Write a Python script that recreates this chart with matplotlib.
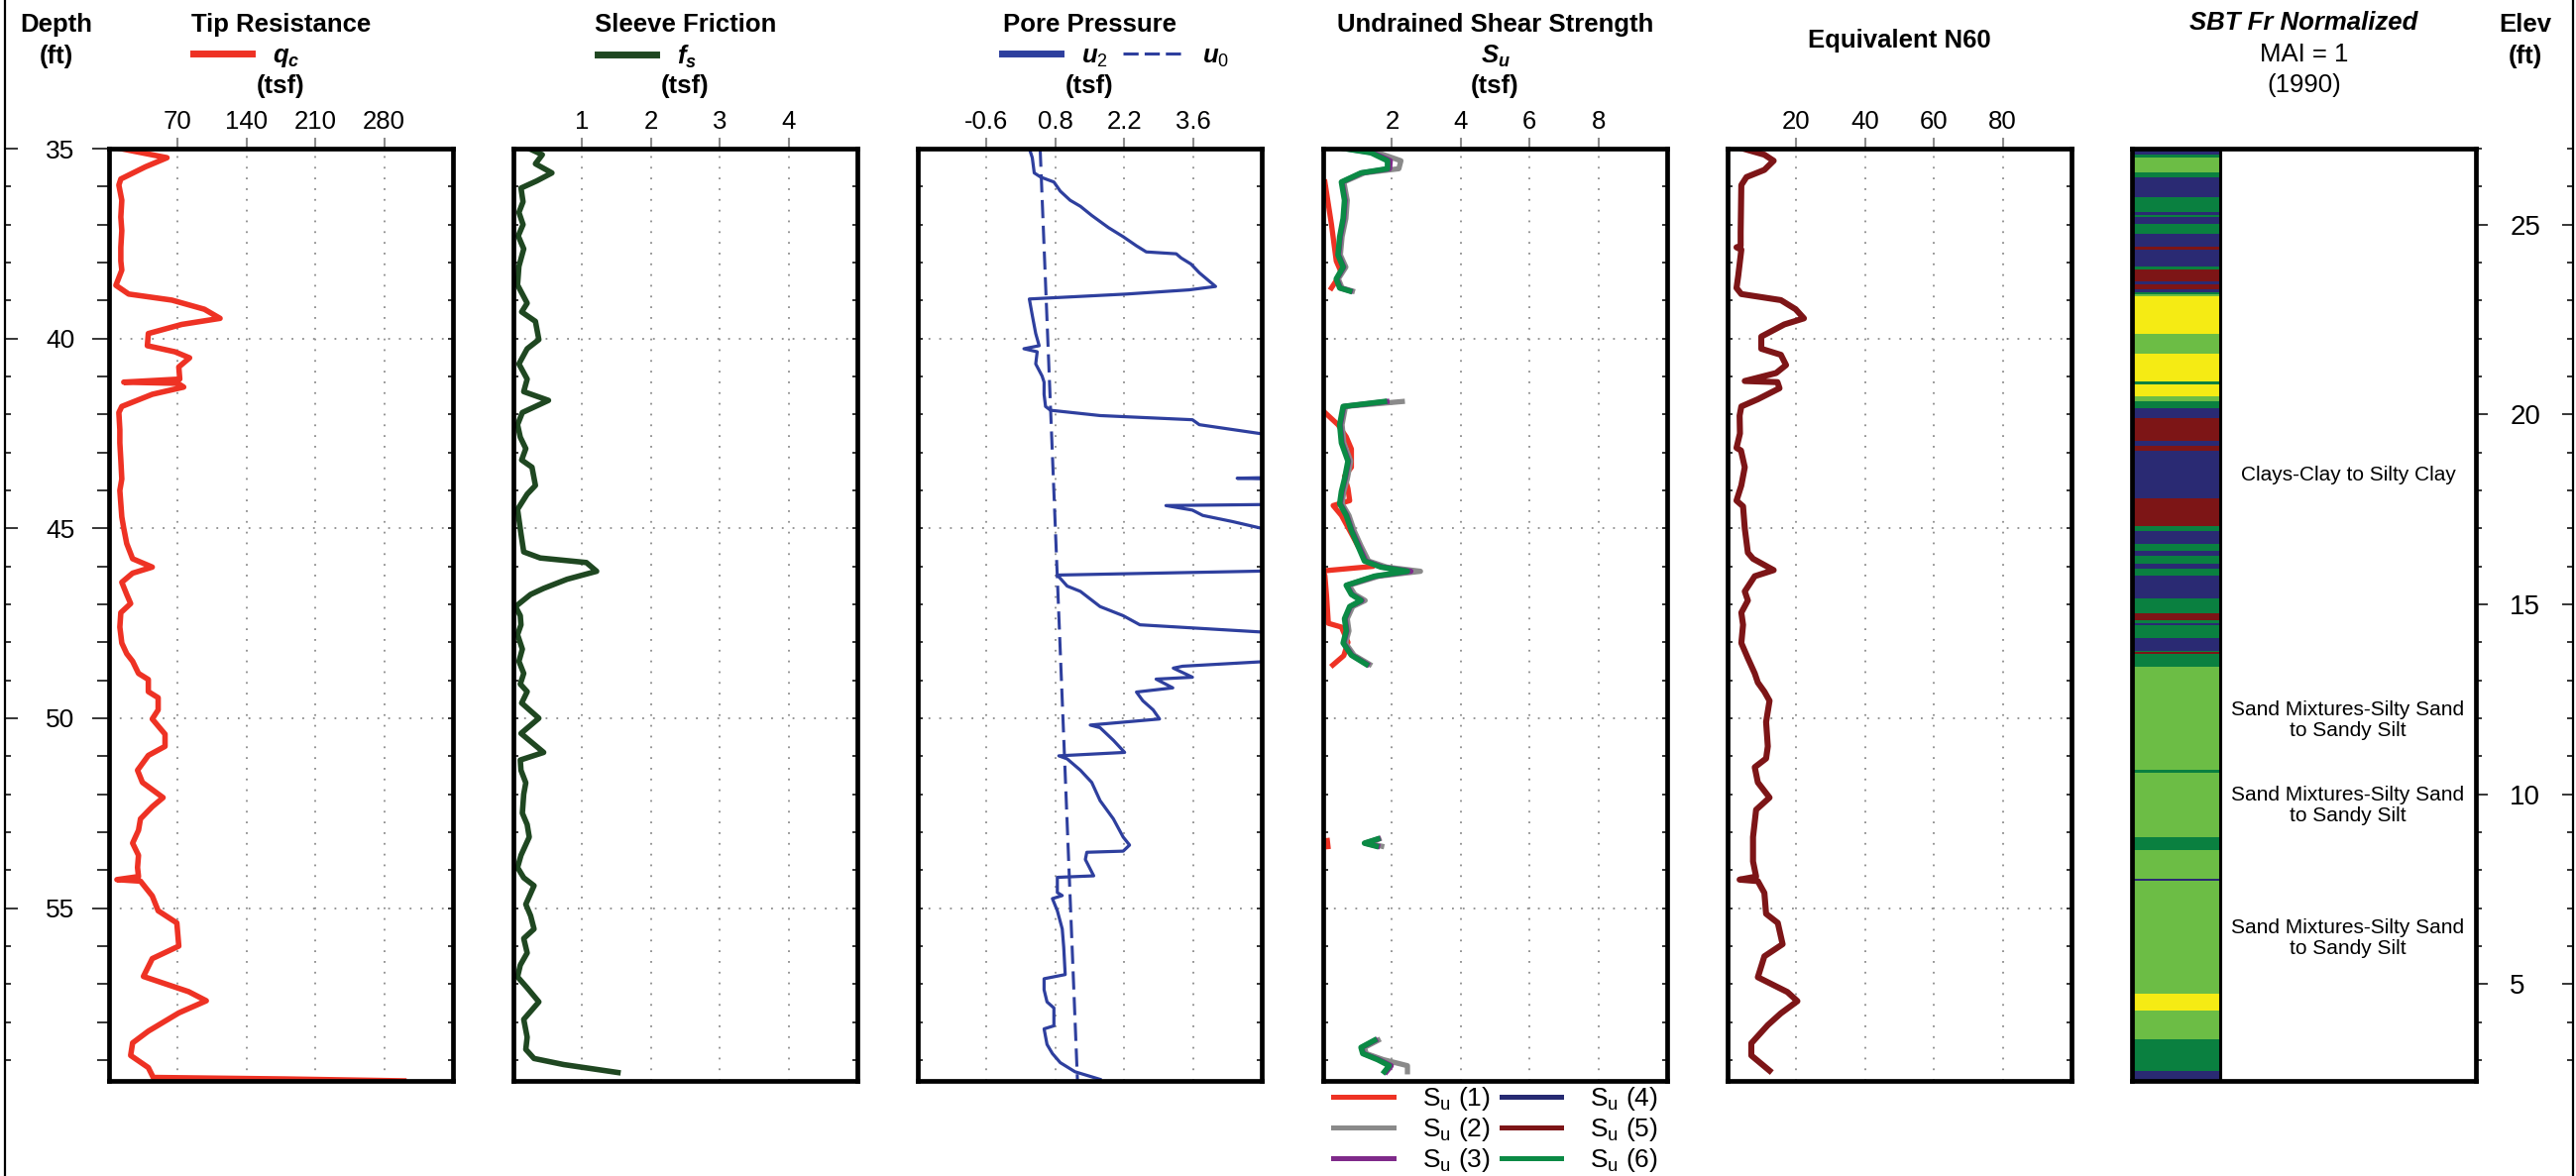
import numpy as np
import matplotlib
matplotlib.use("Agg")
import matplotlib.pyplot as plt
from matplotlib.lines import Line2D

nan = np.nan

# ---- values read off the CPT log (depth in ft) ----
# tip resistance qc (tsf)
tip_qc = [
    (35.00, 12), (35.24, 59), (35.48, 37), (35.80, 12), (35.96, 10), (36.36, 13), (36.80, 12),
    (37.16, 13), (37.60, 12), (37.96, 12), (38.20, 13), (38.60, 7), (38.83, 20), (38.99, 64),
    (39.23, 97), (39.47, 113), (39.63, 74), (39.87, 40), (40.19, 39), (40.35, 67), (40.51, 82),
    (40.75, 71), (41.07, 72), (41.15, 15), (41.18, 70), (41.28, 76), (41.47, 44), (41.79, 13),
    (41.95, 10), (42.40, 11), (42.75, 11), (43.20, 12), (43.70, 13), (44.00, 11), (44.35, 12),
    (44.70, 13), (45.00, 15), (45.40, 18), (45.80, 24), (46.02, 44), (46.18, 24), (46.42, 13),
    (46.74, 18), (46.98, 22), (47.22, 12), (47.60, 11), (48.02, 13), (48.30, 18), (48.50, 24),
    (48.82, 30), (48.98, 40), (49.30, 40), (49.46, 50), (49.78, 50), (50.02, 44), (50.42, 57),
    (50.74, 57), (50.98, 40), (51.37, 29), (51.69, 34), (52.09, 55), (52.33, 44), (52.65, 32),
    (52.95, 30), (53.29, 24), (53.61, 30), (53.93, 29), (54.17, 30), (54.25, 8), (54.29, 32),
    (54.68, 44), (55.07, 50), (55.39, 69), (56.00, 71), (56.33, 44), (56.80, 35), (57.20, 81),
    (57.44, 99), (57.76, 71), (58.24, 40), (58.55, 24), (58.88, 22), (59.20, 40), (59.46, 45),
    (59.50, 180), (59.55, 300),
]

# sleeve friction fs (tsf)
sleeve_fs = [
    (35.00, 0.23), (35.16, 0.42), (35.40, 0.32), (35.64, 0.56), (35.85, 0.34), (36.04, 0.11),
    (36.40, 0.14), (36.68, 0.08), (37.00, 0.14), (37.30, 0.07), (37.64, 0.15), (38.10, 0.08),
    (38.59, 0.06), (39.07, 0.20), (39.30, 0.12), (39.55, 0.32), (40.03, 0.37), (40.27, 0.20),
    (40.67, 0.08), (41.07, 0.20), (41.40, 0.15), (41.63, 0.51), (41.95, 0.13), (42.27, 0.06),
    (42.60, 0.10), (42.90, 0.18), (43.20, 0.12), (43.39, 0.27), (43.87, 0.32), (44.10, 0.20),
    (44.50, 0.06), (45.14, 0.11), (45.62, 0.15), (45.78, 0.39), (45.90, 1.06), (46.13, 1.21),
    (46.34, 0.78), (46.58, 0.44), (46.74, 0.25), (47.06, 0.03), (47.30, 0.10), (47.54, 0.11),
    (47.80, 0.06), (48.18, 0.13), (48.50, 0.08), (48.82, 0.15), (49.10, 0.10), (49.30, 0.20),
    (49.60, 0.12), (50.00, 0.37), (50.40, 0.11), (50.90, 0.44), (51.10, 0.10), (51.37, 0.11),
    (51.70, 0.18), (52.00, 0.15), (52.50, 0.13), (52.80, 0.20), (53.13, 0.23), (53.61, 0.11),
    (53.93, 0.06), (54.20, 0.15), (54.41, 0.30), (54.90, 0.18), (55.20, 0.25), (55.55, 0.30),
    (55.80, 0.15), (56.18, 0.20), (56.50, 0.10), (56.81, 0.06), (57.10, 0.20), (57.47, 0.37),
    (57.93, 0.15), (58.40, 0.20), (58.72, 0.18), (58.96, 0.30), (59.12, 0.73), (59.33, 1.52),
]

# pore pressure u2 (tsf), values above 5 run off the panel
pore_u2 = [
    (35.00, 0.27), (35.24, 0.33), (35.64, 0.37), (35.75, 0.50), (35.88, 0.77), (36.12, 0.90),
    (36.36, 1.10), (36.52, 1.31), (36.76, 1.54), (37.08, 1.88), (37.32, 2.18), (37.56, 2.45),
    (37.72, 2.65), (37.77, 3.26), (37.88, 3.36), (38.04, 3.56), (38.27, 3.73), (38.63, 4.06),
    (38.72, 3.52), (38.83, 2.25), (38.96, 0.27), (39.39, 0.33), (39.87, 0.40), (40.19, 0.47),
    (40.27, 0.16), (40.35, 0.43), (40.67, 0.40), (40.99, 0.53), (41.15, 0.57), (41.47, 0.57),
    (41.79, 0.60), (41.89, 0.70), (42.03, 1.71), (42.14, 3.59), (42.27, 3.73), (42.51, 5.00),
    (42.70, 6.00), (43.64, 6.00), (43.68, 4.50), (43.72, 6.00), (44.36, 6.00), (44.40, 3.05),
    (44.52, 3.59), (44.66, 3.80), (44.82, 4.40), (45.00, 5.00), (45.20, 6.00), (46.10, 6.00),
    (46.23, 0.84), (46.52, 1.04), (46.66, 1.31), (47.06, 1.71), (47.30, 2.18), (47.54, 2.52),
    (47.73, 5.00), (47.85, 6.00), (48.44, 6.00), (48.63, 3.39), (48.68, 3.20), (48.92, 3.59),
    (48.97, 2.85), (49.20, 3.19), (49.31, 2.45), (49.54, 2.58), (49.78, 2.79), (50.02, 2.92),
    (50.18, 1.51), (50.25, 1.71), (50.58, 1.98), (50.90, 2.21), (50.99, 0.87), (51.07, 1.04),
    (51.37, 1.31), (51.69, 1.54), (52.17, 1.71), (52.65, 1.98), (53.13, 2.18), (53.34, 2.31),
    (53.50, 2.18), (53.53, 1.44), (53.72, 1.41), (54.15, 1.58), (54.19, 0.84), (54.59, 0.84),
    (54.67, 0.94), (54.75, 0.74), (55.07, 0.84), (55.55, 0.94), (56.03, 0.97), (56.75, 1.00),
    (56.86, 0.57), (57.15, 0.57), (57.47, 0.63), (57.63, 0.77), (58.10, 0.77), (58.18, 0.57),
    (58.59, 0.63), (58.83, 0.74), (59.07, 0.90), (59.31, 1.20), (59.51, 1.71),
]

# hydrostatic u0 (tsf)
u0_depth = [35.0, 59.55]
u0_vals = [0.49, 1.25]

# undrained shear strength Su (tsf), nan = gap
su_depth = [35.00, 35.11, 35.32, 35.53, 35.64, 35.88, 36.36, 36.84, 37.32, 37.80, 38.12, 38.43,
            38.67, 38.75, nan, 41.66, 41.79, 42.27, 42.75, 43.23, 43.70, 44.03, 44.35, 44.66,
            45.06, 45.46, 45.86, 46.02, 46.13, 46.26, 46.50, 46.74, 46.90, 47.06, 47.38, 47.70,
            48.02, 48.34, 48.58, nan, 53.18, 53.29, 53.37, nan, 58.48, 58.67, 58.83, 58.99,
            59.15, 59.31]
su_2 = [0.70, 1.60, 2.26, 2.20, 1.20, 0.60, 0.70, 0.66, 0.55, 0.50, 0.66, 0.44, 0.55, 0.85, nan,
        2.30, 0.65, 0.55, 0.60, 0.80, 0.70, 0.60, 0.55, 0.75, 0.90, 1.10, 1.32, 1.85, 2.83, 1.62,
        0.75, 0.92, 1.22, 0.86, 0.70, 0.75, 0.65, 0.90, 1.35, nan, 1.62, 1.30, 1.70, nan,
        1.60, 1.20, 1.25, 1.75, 2.45, 2.45]
su_3 = [0.64, 1.45, 1.95, 1.93, 1.12, 0.55, 0.64, 0.60, 0.50, 0.45, 0.60, 0.40, 0.50, 0.79, nan,
        1.85, 0.60, 0.50, 0.55, 0.74, 0.64, 0.55, 0.50, 0.69, 0.84, 1.04, 1.24, 1.73, 2.55, 1.52,
        0.69, 0.84, 1.13, 0.79, 0.64, 0.69, 0.60, 0.84, 1.28, nan, 1.60, 1.22, 1.58, nan,
        1.52, 1.12, 1.17, 1.62, 1.98, 1.84]
su_6 = [0.62, 1.39, 1.87, 1.87, 1.10, 0.53, 0.62, 0.58, 0.48, 0.43, 0.58, 0.38, 0.48, 0.77, nan,
        1.78, 0.58, 0.48, 0.53, 0.72, 0.62, 0.53, 0.48, 0.67, 0.82, 1.01, 1.20, 1.68, 2.45, 1.49,
        0.67, 0.82, 1.10, 0.77, 0.62, 0.67, 0.58, 0.82, 1.25, nan, 1.58, 1.20, 1.54, nan,
        1.49, 1.10, 1.15, 1.58, 1.92, 1.78]
su_1 = [
    (35.88, 0.05), (36.99, 0.24), (37.96, 0.38), (38.27, 0.53), (38.67, 0.24), (nan, nan),
    (41.95, 0.05), (42.27, 0.43), (42.59, 0.67), (42.91, 0.82), (43.39, 0.82), (43.63, 0.62),
    (43.95, 0.72), (44.27, 0.77), (44.40, 0.29), (44.66, 0.53), (45.14, 0.82), (45.46, 1.01),
    (45.86, 1.30), (46.00, 1.45), (46.12, 0.00), (46.25, 0.05), (46.80, 0.10), (47.50, 0.15),
    (47.60, 0.53), (48.00, 0.72), (48.35, 0.60), (48.60, 0.28), (nan, nan),
    (53.22, 0.12), (53.38, 0.14),
]

# equivalent N60
n60 = [
    (35.00, 4.5), (35.16, 10.7), (35.32, 13.4), (35.56, 10.7), (35.75, 5.5), (35.96, 4.0),
    (36.60, 3.9), (37.20, 3.8), (37.56, 3.8), (37.60, 2.6), (37.66, 4.0), (38.35, 3.1),
    (38.67, 2.6), (38.83, 4.0), (38.99, 15.5), (39.23, 19.8), (39.47, 22.2), (39.63, 16.5),
    (39.95, 9.8), (40.27, 9.8), (40.43, 15.5), (40.70, 17.0), (40.91, 14.1), (41.12, 5.0),
    (41.15, 14.5), (41.31, 15.1), (41.60, 8.8), (41.79, 4.0), (42.03, 3.5), (42.50, 3.6),
    (42.88, 2.6), (42.95, 3.9), (43.39, 5.0), (43.87, 4.0), (44.27, 2.6), (44.42, 4.5),
    (45.00, 5.0), (45.64, 5.9), (45.80, 7.4), (46.10, 13.4), (46.26, 7.9), (46.66, 5.0),
    (46.90, 5.9), (47.22, 4.0), (47.54, 4.5), (48.02, 4.0), (48.42, 5.9), (48.82, 7.9),
    (49.06, 8.8), (49.30, 10.7), (49.54, 12.2), (50.10, 11.2), (50.74, 11.7), (51.06, 11.2),
    (51.29, 7.9), (51.69, 8.8), (52.09, 12.2), (52.41, 8.3), (53.13, 7.4), (53.77, 7.4),
    (54.17, 8.3), (54.25, 3.5), (54.29, 8.8), (54.60, 10.7), (55.15, 11.2), (55.39, 14.6),
    (55.95, 16.0), (56.27, 10.7), (56.82, 8.8), (57.21, 17.4), (57.45, 20.3), (57.77, 15.5),
    (58.08, 11.7), (58.56, 6.9), (58.88, 6.9), (59.28, 12.2),
]

# SBT layers: top depth of each layer and its zone colour key
sbt_top = [35.00, 35.16, 35.23, 35.63, 35.76, 36.28, 36.67, 36.74, 36.79, 36.98, 37.24, 37.58,
           37.65, 38.10, 38.18, 38.50, 38.58, 38.70, 38.79, 38.84, 38.90, 39.88, 40.40, 41.13,
           41.21, 41.52, 41.65, 41.83, 42.10, 42.70, 42.83, 42.97, 44.22, 44.94, 45.07, 45.41,
           45.59, 45.72, 45.93, 46.06, 46.24, 46.84, 47.23, 47.43, 47.50, 47.54, 47.89, 48.22,
           48.26, 48.30, 48.65, 51.35, 51.43, 53.13, 53.47, 54.24, 54.29, 57.26, 57.71, 58.45,
           59.29]
sbt_zone = ["B", "G", "L", "G", "B", "G", "B", "G", "B", "G", "B", "R",
            "B", "G", "R", "B", "R", "B", "G", "L", "Y", "L", "Y", "G",
            "Y", "L", "G", "B", "R", "B", "R", "B", "R", "G", "B", "G",
            "B", "G", "B", "G", "B", "G", "R", "G", "B", "G", "B", "G",
            "R", "G", "L", "G", "L", "G", "L", "B", "L", "Y", "L", "G",
            "B"]
sbt_base = 59.55
sbt_labels = ["Clays-Clay to Silty Clay",
              "Sand Mixtures-Silty Sand\nto Sandy Silt",
              "Sand Mixtures-Silty Sand\nto Sandy Silt",
              "Sand Mixtures-Silty Sand\nto Sandy Silt"]
sbt_label_depth = [43.6, 50.05, 52.3, 55.8]

ground_elev = 62.0

# colours
TIP = "#ee3224"
SLEEVE = "#1f4721"
PORE = "#2e3f9e"
N60C = "#7d1517"
SU_COLORS = ["#ee3224", "#8a8a8a", "#7f2a8a", "#262a72", "#7d1517", "#0b8a45"]
ZONE_COLORS = {"B": "#2a2a73", "G": "#0a8040", "L": "#6cbd45", "Y": "#f5eb14", "R": "#7d1516"}
GRID = "#8c8c8c"

plt.rcParams["font.family"] = ["Liberation Sans", "DejaVu Sans"]
plt.rcParams["axes.unicode_minus"] = False
plt.rcParams["mathtext.fontset"] = "custom"
plt.rcParams["mathtext.it"] = "Liberation Sans:italic:bold"
plt.rcParams["mathtext.bf"] = "Liberation Sans:bold"
plt.rcParams["mathtext.rm"] = "Liberation Sans"

W, H = 2599, 1187
fig = plt.figure(figsize=(W / 100, H / 100), dpi=100)

top_px, bot_px = 150, 1091
panel_w = 347
lefts = [110, 518, 926, 1335, 1743, 2151]
depth_top, depth_bot = 35.0, 59.55
px_per_ft = (bot_px - top_px) / (depth_bot - depth_top)
depth_major = [35, 40, 45, 50, 55]
depth_minor = list(range(36, 60))
elev_major = [5, 10, 15, 20, 25]
elev_minor = list(range(3, 28))


def fy(px):
    return 1 - px / H


def add_panel(i):
    return fig.add_axes([lefts[i] / W, fy(bot_px), panel_w / W, (bot_px - top_px) / H])


def style_log(ax, xlim, xticks):
    ax.set_xlim(*xlim)
    ax.set_ylim(depth_bot, depth_top)
    ax.xaxis.tick_top()
    ax.set_xticks(xticks, labels=["{:g}".format(v) for v in xticks], fontsize=18.5)
    ax.tick_params(axis="x", direction="out", length=8, width=1.5, color=GRID, pad=3)
    ax.set_yticks(depth_major, labels=[])
    ax.set_yticks(depth_minor, minor=True)
    ax.tick_params(axis="y", which="both", direction="in", length=3.6, width=1.1,
                   left=True, right=True, labelleft=False)
    ax.grid(axis="x", color=GRID, ls=(0, (1, 5)), lw=1.3)
    ax.grid(axis="y", which="major", color=GRID, ls=(0, (1, 5)), lw=1.3)
    for s in ax.spines.values():
        s.set_linewidth(3.4)


def header_legend(ax, handles, labels, ncol=1):
    ax.legend(handles, labels, loc="center left",
              bbox_to_anchor=(85 / panel_w, 1 + (top_px - 57) / (bot_px - top_px)),
              ncol=ncol, frameon=False, fontsize=18.5, handlelength=2.3,
              handletextpad=0.8, columnspacing=0.6, borderpad=0, borderaxespad=0)


def unzip(pairs):
    d = [p[0] for p in pairs]
    v = [p[1] for p in pairs]
    return d, v


# ---- outer border with depth / elevation ticks ----
axb = fig.add_axes([5 / W, 0, (W - 8) / W, 1])
axb.set_zorder(-1)
axb.patch.set_alpha(0)
d_fig_top = depth_top - top_px / px_per_ft
d_fig_bot = depth_top + (H - top_px) / px_per_ft
axb.set_ylim(d_fig_bot, d_fig_top)
axb.set_xticks([])
axb.spines["top"].set_visible(False)
axb.spines["bottom"].set_visible(False)
axb.spines["left"].set_linewidth(1.6)
axb.spines["right"].set_linewidth(1.6)
axb.set_yticks(depth_major, labels=[])
axb.set_yticks(depth_minor, minor=True)
axb.tick_params(axis="y", which="major", direction="in", length=9, width=1.1)
axb.tick_params(axis="y", which="minor", direction="in", length=4.5, width=1.1)
axbr = axb.twinx()
axb.tick_params(axis="y", which="both", right=False)
axbr.set_ylim(ground_elev - d_fig_bot, ground_elev - d_fig_top)
axbr.set_yticks(elev_major, labels=[])
axbr.set_yticks(elev_minor, minor=True)
axbr.tick_params(axis="y", which="major", direction="in", length=8, width=1.1)
axbr.tick_params(axis="y", which="minor", direction="in", length=4, width=1.1)
for s in axbr.spines.values():
    s.set_visible(False)

# ---- tip resistance ----
ax1 = add_panel(0)
style_log(ax1, (0, 350), [70, 140, 210, 280])
d, v = unzip(tip_qc)
ax1.plot(v, d, color=TIP, lw=4.0, solid_joinstyle="round")
header_legend(ax1, [Line2D([], [], color=TIP, lw=5)], [r"$q_c$"])
ax1d = ax1.twinx()
ax1d.set_ylim(depth_bot, depth_top)
ax1d.yaxis.tick_left()
ax1d.set_yticks(depth_major, labels=[str(v) for v in depth_major], fontsize=19)
ax1d.set_yticks(depth_minor, minor=True)
ax1d.tick_params(axis="y", which="major", direction="out", length=12, width=1.1, pad=13)
ax1d.tick_params(axis="y", which="minor", direction="out", length=9, width=1.1)
for s in ax1d.spines.values():
    s.set_visible(False)
ax1.tick_params(axis="y", which="both", left=False, right=True, labelleft=False)

# ---- sleeve friction ----
ax2 = add_panel(1)
style_log(ax2, (0, 5), [1, 2, 3, 4])
d, v = unzip(sleeve_fs)
ax2.plot(v, d, color=SLEEVE, lw=4.0, solid_joinstyle="round")
header_legend(ax2, [Line2D([], [], color=SLEEVE, lw=5)], [r"$f_s$"])

# ---- pore pressure ----
ax3 = add_panel(2)
style_log(ax3, (-2, 5), [-0.6, 0.8, 2.2, 3.6])
d, v = unzip(pore_u2)
ax3.plot(v, d, color=PORE, lw=2.3)
ax3.plot(u0_vals, u0_depth, color=PORE, lw=2.2, ls=(0, (6, 2.5)))
header_legend(ax3, [Line2D([], [], color=PORE, lw=5),
                    Line2D([], [], color=PORE, lw=2.2, ls=(0, (5, 2)))],
              [r"$u_2$", r"$u_0$"], ncol=2)

# ---- undrained shear strength ----
ax4 = add_panel(3)
style_log(ax4, (0, 10), [2, 4, 6, 8])
d, v = unzip(su_1)
ax4.plot(v, d, color=SU_COLORS[0], lw=3.8)
ax4.plot(su_2, su_depth, color=SU_COLORS[1], lw=3.8)
ax4.plot(su_3, su_depth, color=SU_COLORS[2], lw=3.8)
ax4.plot(su_6, su_depth, color=SU_COLORS[5], lw=4.0)
su_handles = [Line2D([], [], color=c, lw=3.6) for c in SU_COLORS]
su_names = [r"$\mathrm{S_u}$ (%d)" % k for k in range(1, 7)]
ax4.legend(su_handles, su_names, ncol=2, loc="upper left", bbox_to_anchor=(0.03, -0.004),
           frameon=False, fontsize=19, handlelength=2.3, handletextpad=1.1,
           columnspacing=0.4, labelspacing=0.12, borderpad=0, borderaxespad=0)

# ---- equivalent N60 ----
ax5 = add_panel(4)
style_log(ax5, (0, 100), [20, 40, 60, 80])
d, v = unzip(n60)
ax5.plot(v, d, color=N60C, lw=4.4, solid_joinstyle="round")

# ---- SBT column ----
ax6 = add_panel(5)
ax6.set_xlim(0, 1)
ax6.set_ylim(depth_bot, depth_top)
strip = (2240 - 2151) / panel_w
tops = np.array(sbt_top)
bots = np.append(tops[1:], sbt_base)
ax6.barh((tops + bots) / 2, strip, height=bots - tops, left=0,
         color=[ZONE_COLORS[z] for z in sbt_zone], edgecolor="none")
ax6.axvline(strip, color="black", lw=2.2)
for lab, dep in zip(sbt_labels, sbt_label_depth):
    ax6.text((strip + 1) / 2, dep, lab, ha="center", va="center", fontsize=15,
             linespacing=1.15)
ax6.tick_params(left=False, right=False, top=False, bottom=False,
                labelleft=False, labelbottom=False)
for s in ax6.spines.values():
    s.set_linewidth(3.4)
ax6e = ax6.twinx()
ax6e.set_ylim(ground_elev - depth_bot, ground_elev - depth_top)
ax6e.set_yticks(elev_major, labels=[str(v) for v in elev_major], fontsize=20)
ax6e.set_yticks(elev_minor, minor=True)
ax6e.tick_params(axis="y", which="major", direction="out", length=8.6, width=1.1, pad=16)
ax6e.tick_params(axis="y", which="minor", direction="out", length=4.3, width=1.1)
for s in ax6e.spines.values():
    s.set_visible(False)
ax6.tick_params(left=False, right=False)

# ---- header texts ----
bold = dict(ha="center", va="center", fontsize=18.5, fontweight="bold")
fig.text(57 / W, fy(25), "Depth", **bold)
fig.text(57 / W, fy(57), "(ft)", **bold)
fig.text(2548 / W, fy(25), "Elev", **bold)
fig.text(2548 / W, fy(57), "(ft)", **bold)

titles = ["Tip Resistance", "Sleeve Friction", "Pore Pressure", "Undrained Shear Strength"]
for i, t in enumerate(titles):
    cx = (lefts[i] + panel_w / 2) / W
    fig.text(cx, fy(25), t, **bold)
    fig.text(cx, fy(87), "(tsf)", **bold)
fig.text((lefts[3] + panel_w / 2) / W, fy(57), r"$S_u$", ha="center", va="center", fontsize=18.5)
fig.text((lefts[4] + panel_w / 2) / W, fy(41), "Equivalent N60", **bold)
cx6 = (lefts[5] + panel_w / 2) / W
fig.text(cx6, fy(23), "SBT Fr Normalized", ha="center", va="center", fontsize=18.5,
         fontweight="bold", fontstyle="italic")
fig.text(cx6, fy(55), "MAI = 1", ha="center", va="center", fontsize=18.5)
fig.text(cx6, fy(86), "(1990)", ha="center", va="center", fontsize=18.5)

fig.savefig("out.png", dpi=100)
